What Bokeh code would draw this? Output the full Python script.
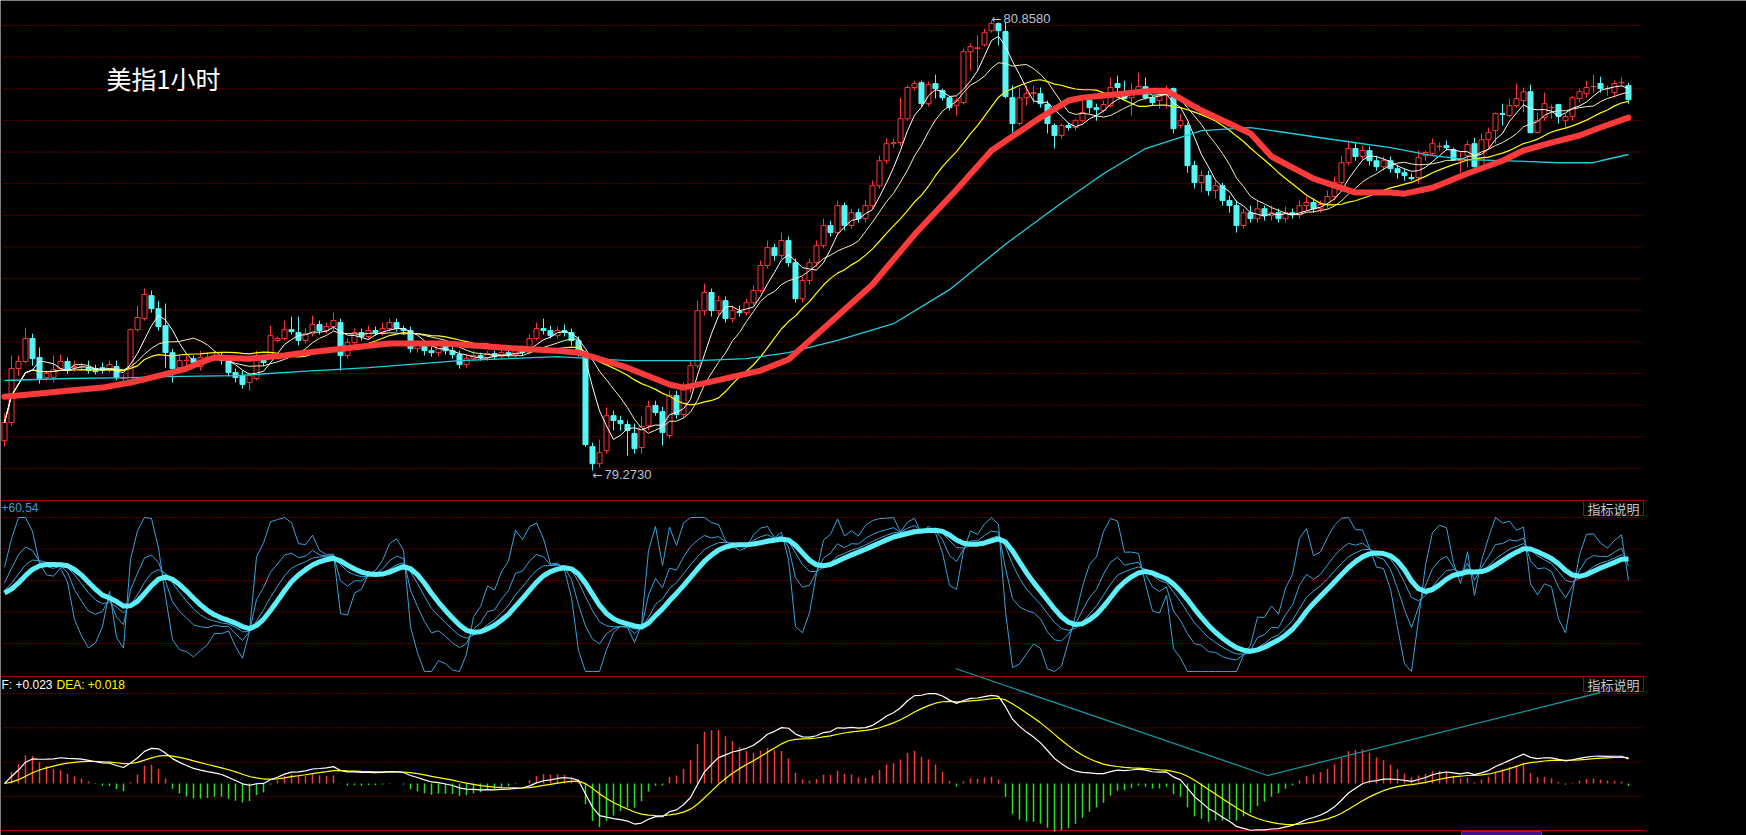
import numpy as np
import pandas as pd
from bokeh.plotting import figure
from bokeh.models import Range1d, Label
from bokeh.embed import file_html
from bokeh.resources import INLINE

# ---------------- data (hourly candles, US dollar index) ----------------
opens = [
 79.378, 79.442, 79.632, 79.657, 79.738, 79.671, 79.600, 79.600, 79.632, 79.657,
 79.635, 79.639, 79.635, 79.632, 79.635, 79.625, 79.639, 79.597, 79.583, 79.769,
 79.808, 79.889, 79.843, 79.783, 79.688, 79.635, 79.660, 79.667, 79.639, 79.671,
 79.674, 79.678, 79.660, 79.618, 79.607, 79.583, 79.597, 79.667, 79.678, 79.731,
 79.738, 79.769, 79.759, 79.731, 79.755, 79.787, 79.766, 79.780, 79.794, 79.678,
 79.724, 79.759, 79.745, 79.766, 79.759, 79.773, 79.794, 79.773, 79.766, 79.702,
 79.713, 79.695, 79.688, 79.713, 79.695, 79.681, 79.646, 79.667, 79.678, 79.671,
 79.685, 79.674, 79.688, 79.681, 79.702, 79.688, 79.738, 79.773, 79.766, 79.748,
 79.766, 79.759, 79.731, 79.681, 79.357, 79.297, 79.343, 79.466, 79.449, 79.435,
 79.403, 79.354, 79.431, 79.502, 79.480, 79.396, 79.537, 79.470, 79.561, 79.642,
 79.836, 79.900, 79.836, 79.871, 79.808, 79.833, 79.829, 79.864, 79.907, 79.995,
 80.058, 80.030, 80.083, 80.005, 79.878, 79.942, 80.005, 80.065, 80.136, 80.111,
 80.206, 80.136, 80.181, 80.160, 80.206, 80.276, 80.364, 80.424, 80.428, 80.512,
 80.622, 80.639, 80.565, 80.636, 80.611, 80.586, 80.558, 80.569, 80.748, 80.759,
 80.773, 80.822, 80.847, 80.819, 80.586, 80.495, 80.586, 80.600, 80.600, 80.562,
 80.488, 80.453, 80.488, 80.481, 80.505, 80.576, 80.551, 80.541, 80.558, 80.636,
 80.600, 80.586, 80.607, 80.625, 80.586, 80.576, 80.593, 80.618, 80.488, 80.488,
 80.347, 80.287, 80.312, 80.259, 80.276, 80.224, 80.206, 80.136, 80.181, 80.160,
 80.195, 80.171, 80.181, 80.160, 80.181, 80.174, 80.206, 80.217, 80.195, 80.210,
 80.238, 80.287, 80.357, 80.407, 80.379, 80.400, 80.364, 80.343, 80.364, 80.336,
 80.322, 80.305, 80.305, 80.382, 80.389, 80.414, 80.417, 80.403, 80.364, 80.382,
 80.424, 80.340, 80.438, 80.470, 80.530, 80.523, 80.558, 80.576, 80.607, 80.463,
 80.516, 80.551, 80.562, 80.505, 80.520, 80.583, 80.600, 80.625, 80.636, 80.618,
 80.604, 80.639, 80.629]
closes = [
 79.442, 79.632, 79.657, 79.738, 79.667, 79.597, 79.614, 79.628, 79.657, 79.625,
 79.639, 79.640, 79.625, 79.621, 79.625, 79.646, 79.600, 79.598, 79.769, 79.812,
 79.893, 79.843, 79.780, 79.688, 79.632, 79.660, 79.661, 79.653, 79.671, 79.672,
 79.678, 79.660, 79.618, 79.600, 79.576, 79.607, 79.678, 79.653, 79.748, 79.738,
 79.769, 79.762, 79.731, 79.755, 79.787, 79.766, 79.780, 79.801, 79.678, 79.724,
 79.759, 79.745, 79.766, 79.759, 79.773, 79.794, 79.773, 79.766, 79.702, 79.713,
 79.695, 79.688, 79.713, 79.695, 79.681, 79.646, 79.667, 79.678, 79.671, 79.685,
 79.674, 79.688, 79.681, 79.702, 79.688, 79.738, 79.773, 79.766, 79.748, 79.766,
 79.759, 79.731, 79.688, 79.364, 79.297, 79.336, 79.466, 79.449, 79.438, 79.414,
 79.350, 79.428, 79.498, 79.477, 79.407, 79.537, 79.470, 79.561, 79.642, 79.836,
 79.900, 79.836, 79.871, 79.808, 79.836, 79.829, 79.864, 79.907, 79.995, 80.058,
 80.030, 80.083, 80.005, 79.878, 79.942, 80.005, 80.065, 80.136, 80.111, 80.206,
 80.136, 80.181, 80.160, 80.206, 80.276, 80.364, 80.424, 80.428, 80.512, 80.622,
 80.636, 80.565, 80.632, 80.618, 80.586, 80.551, 80.576, 80.748, 80.766, 80.762,
 80.815, 80.847, 80.822, 80.590, 80.495, 80.586, 80.600, 80.604, 80.565, 80.495,
 80.453, 80.488, 80.481, 80.505, 80.534, 80.551, 80.544, 80.562, 80.622, 80.622,
 80.583, 80.611, 80.625, 80.586, 80.569, 80.593, 80.615, 80.477, 80.505, 80.347,
 80.287, 80.312, 80.259, 80.276, 80.224, 80.206, 80.136, 80.181, 80.160, 80.195,
 80.171, 80.181, 80.160, 80.181, 80.174, 80.206, 80.217, 80.195, 80.210, 80.238,
 80.287, 80.357, 80.407, 80.379, 80.400, 80.364, 80.343, 80.364, 80.336, 80.322,
 80.312, 80.301, 80.375, 80.393, 80.424, 80.415, 80.410, 80.368, 80.365, 80.421,
 80.343, 80.438, 80.463, 80.530, 80.527, 80.558, 80.583, 80.607, 80.463, 80.505,
 80.565, 80.552, 80.520, 80.520, 80.586, 80.607, 80.622, 80.626, 80.618, 80.619,
 80.636, 80.640, 80.579]
highs = [
 79.474, 79.678, 79.678, 79.776, 79.755, 79.706, 79.625, 79.678, 79.681, 79.671,
 79.660, 79.653, 79.660, 79.646, 79.653, 79.660, 79.660, 79.611, 79.773, 79.854,
 79.914, 79.907, 79.871, 79.861, 79.702, 79.678, 79.678, 79.678, 79.695, 79.688,
 79.695, 79.688, 79.667, 79.632, 79.625, 79.618, 79.695, 79.678, 79.783, 79.745,
 79.801, 79.815, 79.815, 79.773, 79.819, 79.801, 79.794, 79.829, 79.808, 79.738,
 79.773, 79.773, 79.783, 79.780, 79.794, 79.808, 79.808, 79.783, 79.780, 79.731,
 79.724, 79.709, 79.731, 79.724, 79.709, 79.695, 79.681, 79.695, 79.688, 79.695,
 79.695, 79.702, 79.699, 79.713, 79.713, 79.752, 79.794, 79.808, 79.783, 79.780,
 79.787, 79.773, 79.745, 79.695, 79.371, 79.382, 79.495, 79.484, 79.466, 79.449,
 79.438, 79.463, 79.519, 79.519, 79.498, 79.554, 79.554, 79.583, 79.660, 79.871,
 79.931, 79.914, 79.889, 79.886, 79.854, 79.854, 79.878, 79.924, 80.012, 80.083,
 80.072, 80.111, 80.097, 80.019, 79.956, 80.019, 80.083, 80.160, 80.153, 80.224,
 80.217, 80.195, 80.195, 80.224, 80.294, 80.382, 80.442, 80.442, 80.586, 80.629,
 80.646, 80.646, 80.643, 80.667, 80.618, 80.593, 80.586, 80.759, 80.777, 80.805,
 80.829, 80.858, 80.851, 80.851, 80.629, 80.622, 80.629, 80.629, 80.622, 80.576,
 80.495, 80.495, 80.498, 80.512, 80.576, 80.593, 80.565, 80.576, 80.657, 80.664,
 80.646, 80.636, 80.674, 80.657, 80.593, 80.618, 80.629, 80.622, 80.530, 80.498,
 80.364, 80.329, 80.329, 80.294, 80.287, 80.241, 80.224, 80.195, 80.206, 80.224,
 80.206, 80.206, 80.195, 80.202, 80.195, 80.224, 80.238, 80.231, 80.224, 80.259,
 80.308, 80.382, 80.435, 80.428, 80.417, 80.414, 80.382, 80.379, 80.379, 80.350,
 80.336, 80.319, 80.400, 80.400, 80.442, 80.428, 80.435, 80.410, 80.393, 80.435,
 80.445, 80.460, 80.481, 80.534, 80.565, 80.583, 80.636, 80.622, 80.632, 80.534,
 80.604, 80.562, 80.565, 80.530, 80.593, 80.618, 80.646, 80.667, 80.660, 80.629,
 80.646, 80.657, 80.639]
lows = [
 79.357, 79.431, 79.607, 79.650, 79.642, 79.579, 79.590, 79.583, 79.625, 79.614,
 79.621, 79.625, 79.614, 79.611, 79.614, 79.618, 79.590, 79.579, 79.569, 79.762,
 79.801, 79.829, 79.766, 79.635, 79.583, 79.618, 79.642, 79.639, 79.625, 79.653,
 79.660, 79.646, 79.604, 79.583, 79.561, 79.554, 79.590, 79.642, 79.671, 79.724,
 79.731, 79.752, 79.713, 79.720, 79.745, 79.752, 79.755, 79.766, 79.625, 79.667,
 79.713, 79.731, 79.734, 79.748, 79.748, 79.762, 79.762, 79.752, 79.688, 79.688,
 79.678, 79.674, 79.674, 79.681, 79.667, 79.632, 79.635, 79.660, 79.660, 79.660,
 79.664, 79.667, 79.671, 79.671, 79.678, 79.681, 79.731, 79.752, 79.738, 79.738,
 79.745, 79.713, 79.674, 79.357, 79.273, 79.283, 79.332, 79.414, 79.414, 79.325,
 79.332, 79.332, 79.414, 79.466, 79.361, 79.385, 79.456, 79.456, 79.547, 79.632,
 79.819, 79.815, 79.822, 79.794, 79.794, 79.815, 79.819, 79.854, 79.900, 79.984,
 80.012, 80.019, 79.991, 79.864, 79.864, 79.928, 79.991, 80.055, 80.097, 80.100,
 80.118, 80.125, 80.146, 80.146, 80.195, 80.266, 80.354, 80.410, 80.417, 80.505,
 80.611, 80.555, 80.555, 80.583, 80.576, 80.541, 80.523, 80.562, 80.681, 80.681,
 80.766, 80.815, 80.770, 80.583, 80.463, 80.488, 80.558, 80.565, 80.551, 80.460,
 80.407, 80.442, 80.470, 80.470, 80.498, 80.530, 80.505, 80.534, 80.551, 80.586,
 80.576, 80.523, 80.600, 80.579, 80.558, 80.548, 80.548, 80.460, 80.477, 80.322,
 80.266, 80.252, 80.241, 80.231, 80.206, 80.181, 80.111, 80.125, 80.146, 80.146,
 80.153, 80.153, 80.146, 80.146, 80.160, 80.160, 80.188, 80.181, 80.181, 80.195,
 80.224, 80.276, 80.347, 80.364, 80.364, 80.347, 80.329, 80.329, 80.322, 80.301,
 80.294, 80.294, 80.283, 80.364, 80.382, 80.400, 80.400, 80.364, 80.322, 80.340,
 80.340, 80.336, 80.410, 80.424, 80.488, 80.516, 80.551, 80.534, 80.460, 80.460,
 80.505, 80.512, 80.495, 80.481, 80.505, 80.569, 80.586, 80.604, 80.604, 80.593,
 80.586, 80.629, 80.565]

# slow moving average (thick red): candle index, value
slow_ma_idx = [0, 5, 9, 14, 18, 21, 26, 28, 30, 35, 40, 42, 55, 63, 71, 79, 82, 89,
               95, 97, 101, 108, 112, 117, 124, 130, 136, 141, 148, 152, 154, 164,
               166, 171, 178, 181, 187, 193, 198, 200, 204, 209, 214, 217, 221,
               225, 228, 232]
slow_ma_val = [79.533, 79.544, 79.554, 79.565, 79.583, 79.600, 79.632, 79.653,
               79.671, 79.667, 79.678, 79.685, 79.720, 79.720, 79.706, 79.695,
               79.688, 79.635, 79.576, 79.565, 79.586, 79.625, 79.664, 79.773,
               79.928, 80.104, 80.262, 80.400, 80.516, 80.576, 80.586, 80.611,
               80.611, 80.541, 80.460, 80.379, 80.301, 80.252, 80.252, 80.248,
               80.269, 80.319, 80.364, 80.400, 80.428, 80.453, 80.481, 80.516]
# long moving average (thin cyan)
long_ma_idx = [0, 9, 18, 23, 33, 42, 52, 65, 79, 89, 99, 106, 112, 119, 127, 135,
               143, 151, 157, 163, 171, 178, 182, 190, 198, 204, 209, 218, 222,
               227, 228, 232]
long_ma_val = [79.590, 79.597, 79.600, 79.604, 79.607, 79.621, 79.635, 79.660,
               79.674, 79.660, 79.660, 79.667, 79.688, 79.731, 79.790, 79.910,
               80.070, 80.215, 80.318, 80.407, 80.470, 80.481, 80.467, 80.438,
               80.410, 80.382, 80.368, 80.361, 80.357, 80.357, 80.364, 80.386]

title_text = "美指1小时"
high_text = "80.8580"
low_text = "79.2730"
osc_text = "+60.54"
dif_text = "F: +0.023"
dea_text = "DEA: +0.018"
help_text = "指标说明"

# ---------------- derived indicators ----------------
o = np.array(opens); c = np.array(closes); h = np.array(highs); l = np.array(lows)
n = len(c)
idx = np.arange(n)
cs = pd.Series(c)
ma5 = cs.rolling(5, min_periods=1).mean()
ma10 = cs.rolling(10, min_periods=1).mean()
ma20 = cs.rolling(20, min_periods=1).mean()

# KDJ (9,3,3) with the usual 50 start value
llv = pd.Series(l).rolling(9, min_periods=1).min().values
hhv = pd.Series(h).rolling(9, min_periods=1).max().values
rsv = (c - llv) / (hhv - llv) * 100
k_line = np.zeros(n); d_line = np.zeros(n); thick_line = np.zeros(n)
kp, dp, tp = 50.0, 50.0, 50.0
for i in range(n):
    kp = kp * 2 / 3 + rsv[i] / 3
    dp = dp * 2 / 3 + kp / 3
    tp = tp * 0.6 + dp * 0.4
    k_line[i], d_line[i], thick_line[i] = kp, dp, tp
j_line = np.clip(3 * k_line - 2 * d_line, 0, 100)

ema12 = cs.ewm(span=12, adjust=False).mean()
ema26 = cs.ewm(span=26, adjust=False).mean()
dif = ema12 - ema26
dea = dif.ewm(span=9, adjust=False).mean()
hist = 2 * (dif - dea)

# ---------------- layout (reference pixel geometry) ----------------
W, H = 1746, 835
def fx(xr):
    return xr
def fy(yr):
    return H - yr

X0_REF, DX = 4.0, 7.0
x_start = -X0_REF / DX
x_end = x_start + W / DX

hi, lo = h.max(), l.min()
ppx = (hi - lo) / (470 - 20)
y_top = hi + 20 * ppx
y_bot = y_top - H * ppx

osc_ppx = 100.0 / (671 - 517)
osc_lo = -fy(671) * osc_ppx
osc_hi = osc_lo + H * osc_ppx

m_ppx = dif.max() / 90.0
m_lo = -fy(783) * m_ppx
m_hi = m_lo + H * m_ppx

p = figure(width=W, height=H, x_range=Range1d(x_start, x_end),
           y_range=Range1d(y_bot, y_top), output_backend="svg",
           toolbar_location=None, x_axis_location=None, y_axis_location=None,
           min_border=0, background_fill_color="black",
           border_fill_color="black", outline_line_color=None)
p.grid.visible = False
p.extra_x_ranges = {"px": Range1d(0, W)}
p.extra_y_ranges = {"px": Range1d(0, H), "osc": Range1d(osc_lo, osc_hi),
                    "macd": Range1d(m_lo, m_hi)}

GRID = "#c00000"
right_px = fx(1643)
main_grid = [25 + 31.64 * k for k in range(15)]
osc_grid = [517 + 31.5 * k for k in range(5)]
macd_grid = [693 + 34.3 * k for k in range(4)]
gy = [fy(v) for v in main_grid + osc_grid + macd_grid]
p.segment(x0=[0] * len(gy), y0=gy, x1=[right_px] * len(gy), y1=gy,
          line_color=GRID, line_width=1, line_dash="1 2",
          x_range_name="px", y_range_name="px")
sep = [fy(500), fy(676), fy(830)]
p.segment(x0=[0] * 3, y0=sep, x1=[right_px] * 3, y1=sep, line_color="#b00000",
          line_width=1.2, x_range_name="px", y_range_name="px")

# ---------------- candles ----------------
UP = "#ff3434"
DN = "#56f6f6"
up = c >= o
wick_col = [UP if u else DN for u in up]
p.segment(x0=idx, y0=l, x1=idx, y1=h, line_color=wick_col, line_width=1)
p.vbar(x=idx, width=0.72, top=np.maximum(o, c), bottom=np.minimum(o, c),
       fill_color=["black" if u else DN for u in up], line_color=wick_col,
       line_width=1)

# moving averages
p.line(idx, ma20, line_color="#ffff00", line_width=1.2)
p.line(idx, ma10, line_color="#f4f0b8", line_width=1)
p.line(idx, ma5, line_color="#ffffff", line_width=1)
p.line(long_ma_idx, long_ma_val, line_color="#1ecfe0", line_width=1.3)
p.line(slow_ma_idx, slow_ma_val, line_color="#ff3a3a", line_width=6,
       line_join="round", line_cap="round")

# ---------------- oscillator panel ----------------
THIN = "#3aa2d8"
for s in (j_line, k_line, d_line):
    p.line(idx, s, line_color=THIN, line_width=1, y_range_name="osc")
p.line(idx, thick_line, line_color="#5ef0f8", line_width=5, line_join="round",
       y_range_name="osc")

# ---------------- MACD panel ----------------
hcol = ["#ff3434" if v >= 0 else "#22e022" for v in hist]
p.segment(x0=idx, y0=[0] * n, x1=idx, y1=hist, line_color=hcol, line_width=1.5,
          y_range_name="macd")
p.line(idx, dea, line_color="#ffff00", line_width=1.2, y_range_name="macd")
p.line(idx, dif, line_color="#ffffff", line_width=1.2, y_range_name="macd")

# divergence trend line (drawn annotation)
p.line([fx(955), fx(1267), fx(1600)], [fy(668), fy(775), fy(692)],
       line_color="#17929c", line_width=1.3, x_range_name="px", y_range_name="px")

# current-time marker on the time strip
p.quad(left=[fx(1461)], right=[fx(1541)], top=[fy(831)], bottom=[fy(836)],
       fill_color="#40108c", line_color="#7a20c0", x_range_name="px",
       y_range_name="px")

# "指标说明" boxes
for top in (500, 676):
    p.quad(left=[fx(1583)], right=[fx(1643)], top=[fy(top)], bottom=[fy(top + 15)],
           fill_color="black", line_color="#b00000", line_width=1,
           x_range_name="px", y_range_name="px")
    p.add_layout(Label(x=fx(1613), y=fy(top + 8), text=help_text,
                       text_align="center", text_baseline="middle",
                       text_font="Noto Sans CJK SC", text_font_size="13px",
                       text_color="#c8c8c8", x_range_name="px", y_range_name="px"))

def lab(xr, yr, txt, col, size="12px", font="Liberation Sans", align="left"):
    p.add_layout(Label(x=fx(xr), y=fy(yr), text=txt, text_align=align,
                       text_baseline="middle", text_font=font,
                       text_font_size=size, text_color=col,
                       x_range_name="px", y_range_name="px"))

lab(106, 77, title_text, "#ffffff", size="25px", font="Noto Sans CJK SC")
lab(991, 18, "\u2190", "#b8c2d8", size="12px", font="DejaVu Sans")
lab(1003, 18, high_text, "#b8c2d8", size="13px")
lab(592, 474, "\u2190", "#b8c2d8", size="12px", font="DejaVu Sans")
lab(604, 474, low_text, "#b8c2d8", size="13px")
lab(1, 507, osc_text, "#3c9ed8")
lab(1, 684, dif_text, "#ffffff")
lab(56, 684, dea_text, "#ffff00")

open("out.html", "w").write(file_html(p, INLINE))
